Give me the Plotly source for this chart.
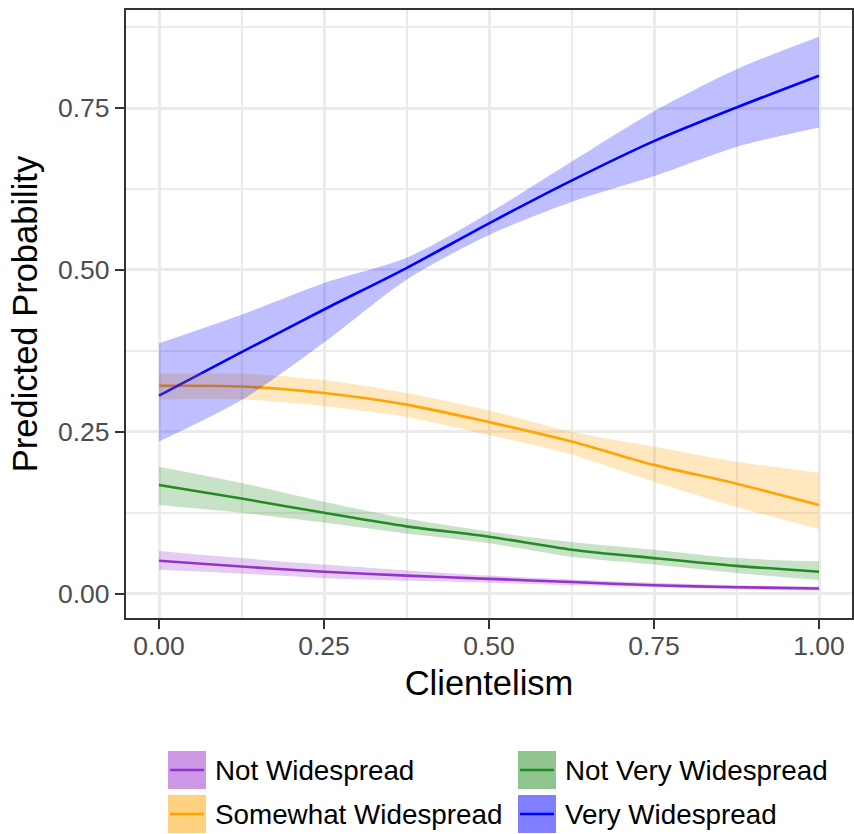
import plotly.graph_objects as go

# ---------------- data ----------------
clientelism = [0.0, 0.125, 0.25, 0.375, 0.5, 0.625, 0.75, 0.875, 1.0]

series_names = ["Not Widespread", "Not Very Widespread", "Somewhat Widespread", "Very Widespread"]

not_ws_fit   = [0.051, 0.042, 0.034, 0.028, 0.023, 0.018, 0.013, 0.010, 0.008]
not_ws_upper = [0.066, 0.055, 0.045, 0.036, 0.028, 0.022, 0.017, 0.013, 0.011]
not_ws_lower = [0.037, 0.031, 0.024, 0.020, 0.017, 0.013, 0.010, 0.007, 0.005]

not_very_fit   = [0.168, 0.147, 0.125, 0.104, 0.088, 0.068, 0.055, 0.043, 0.034]
not_very_upper = [0.196, 0.171, 0.142, 0.116, 0.096, 0.080, 0.068, 0.055, 0.050]
not_very_lower = [0.137, 0.125, 0.110, 0.093, 0.078, 0.057, 0.045, 0.032, 0.021]

somewhat_fit   = [0.321, 0.320, 0.310, 0.292, 0.265, 0.235, 0.199, 0.170, 0.137]
somewhat_upper = [0.340, 0.340, 0.330, 0.310, 0.283, 0.250, 0.227, 0.204, 0.187]
somewhat_lower = [0.300, 0.300, 0.290, 0.273, 0.245, 0.215, 0.173, 0.134, 0.100]

very_fit   = [0.306, 0.373, 0.439, 0.503, 0.572, 0.638, 0.699, 0.751, 0.800]
very_upper = [0.387, 0.431, 0.480, 0.519, 0.588, 0.667, 0.745, 0.810, 0.860]
very_lower = [0.235, 0.299, 0.388, 0.485, 0.554, 0.605, 0.645, 0.690, 0.720]

x_tickvals = [0.0, 0.25, 0.5, 0.75, 1.0]
x_ticktext = ["0.00", "0.25", "0.50", "0.75", "1.00"]
y_tickvals = [0.0, 0.25, 0.5, 0.75]
y_ticktext = ["0.00", "0.25", "0.50", "0.75"]
minor_vals = [0.125, 0.375, 0.625, 0.875]

# ---------------- styling ----------------
line_colors = ["#9932CC", "#228B22", "#FFA500", "#0000FF"]
rgb = [(153, 50, 204), (34, 139, 34), (255, 165, 0), (0, 0, 255)]
FONT = "Liberation Sans, Arial, Helvetica, sans-serif"

fits = [not_ws_fit, not_very_fit, somewhat_fit, very_fit]
uppers = [not_ws_upper, not_very_upper, somewhat_upper, very_upper]
lowers = [not_ws_lower, not_very_lower, somewhat_lower, very_lower]

fig = go.Figure()

# lines first (ribbons are drawn on top of them, as in the reference)
for name, fit, col in zip(series_names, fits, line_colors):
    fig.add_trace(go.Scatter(x=clientelism, y=fit, mode="lines", name=name,
                             line=dict(color=col, width=2.6, shape="spline", smoothing=0.8),
                             showlegend=False))

for name, up, lo, c in zip(series_names, uppers, lowers, rgb):
    fig.add_trace(go.Scatter(x=clientelism, y=lo, mode="lines",
                             line=dict(width=0, shape="spline", smoothing=0.8),
                             showlegend=False, hoverinfo="skip"))
    fig.add_trace(go.Scatter(x=clientelism, y=up, mode="lines", fill="tonexty",
                             fillcolor="rgba(%d,%d,%d,0.25)" % c,
                             line=dict(width=0, shape="spline", smoothing=0.8),
                             showlegend=False, hoverinfo="skip"))

# ---------------- layout ----------------
W, H = 854, 834
L, R, T, B = 126, 2, 10, 216
pw, ph = W - L - R, H - T - B

def px_x(p):   # screen pixel -> paper x
    return (p - L) / pw

def px_y(p):   # screen pixel -> paper y
    return (H - B - p) / ph

axis_common = dict(
    showline=True, linecolor="#333333", linewidth=2.4, mirror=True,
    ticks="outside", ticklen=9, tickwidth=2.4, tickcolor="#333333",
    showgrid=True, gridcolor="#EBEBEB", gridwidth=3,
    zeroline=False,
    tickfont=dict(family=FONT, size=26.5, color="#4D4D4D"),
    minor=dict(tickvals=minor_vals, showgrid=True, gridcolor="#EBEBEB", gridwidth=1.5, ticks=""),
)

fig.update_layout(
    width=W, height=H,
    margin=dict(l=L, r=R, t=T, b=B, autoexpand=False),
    plot_bgcolor="white", paper_bgcolor="white",
    font=dict(family=FONT, color="black"),
    xaxis=dict(range=[-0.05, 1.05], tickmode="array", tickvals=x_tickvals, ticktext=x_ticktext,
               ticklabelstandoff=-6,
               title=dict(text="Clientelism", font=dict(family=FONT, size=34.5, color="black"), standoff=11),
               **axis_common),
    yaxis=dict(range=[-0.0375, 0.9015], tickmode="array", tickvals=y_tickvals, ticktext=y_ticktext,
               title=dict(text="Predicted Probability", font=dict(family=FONT, size=34.5, color="black"), standoff=10),
               **axis_common),
    showlegend=False,
)

# ---------------- manual legend ----------------
key_w, key_h = 38, 38
legend_pos = [(168, 751), (518, 751), (168, 795), (518, 795)]  # key top-left corners (px)
for name, (kx, ky), c, col in zip(series_names, legend_pos, rgb, line_colors):
    fill = "rgba(%d,%d,%d,0.5)" % c
    fig.add_shape(type="rect", xref="paper", yref="paper",
                  x0=px_x(kx), x1=px_x(kx + key_w), y0=px_y(ky + key_h), y1=px_y(ky),
                  fillcolor=fill, line=dict(width=0), layer="above")
    fig.add_shape(type="line", xref="paper", yref="paper",
                  x0=px_x(kx + 2), x1=px_x(kx + key_w - 2),
                  y0=px_y(ky + key_h / 2), y1=px_y(ky + key_h / 2),
                  line=dict(color=col, width=2.6), layer="above")
    fig.add_annotation(text=name, xref="paper", yref="paper",
                       x=px_x(kx + key_w + 7), y=px_y(ky + key_h / 2),
                       xanchor="left", yanchor="middle", showarrow=False,
                       font=dict(family=FONT, size=27.8, color="black"))

fig.write_html(
    "out.html",
    config={"displayModeBar": False},
    post_script="document.body.style.margin='0px';"
                "document.body.style.overflow='hidden';"
                "document.documentElement.style.overflow='hidden';",
)
